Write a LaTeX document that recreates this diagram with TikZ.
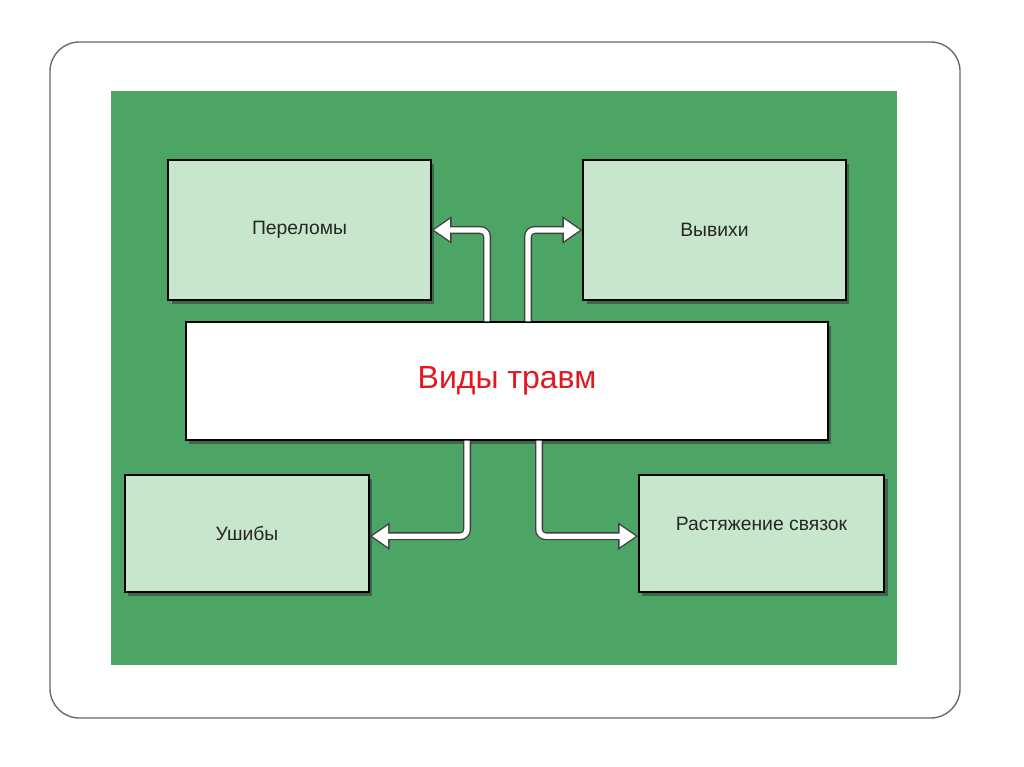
\documentclass[tikz,border=0pt]{standalone}
\usepackage{fontspec}
\setmainfont{Liberation Sans}
\usetikzlibrary{arrows.meta, positioning, shadows}

\definecolor{bggreen}{RGB}{76,165,100}
\definecolor{boxgreen}{RGB}{200,230,204}
\definecolor{titlered}{RGB}{226,24,30}

\begin{document}
\begin{tikzpicture}[
    x=0.75pt, y=-0.75pt,
    kind/.style={rectangle, draw=black, line width=1.1pt, fill=boxgreen, text centered, text=black!85, font=\fontsize{14.5}{17}\selectfont,
        drop shadow={shadow xshift=2.5pt, shadow yshift=-3pt, opacity=0.55, fill=black!80}},
    main/.style={rectangle, draw=black, line width=1.1pt, fill=white, text=titlered, font=\fontsize{24}{28}\selectfont,
        drop shadow={shadow xshift=2.5pt, shadow yshift=-3pt, opacity=0.55, fill=black!80}},
    conn/.style={white, line width=4pt, rounded corners=5pt, shorten >=1.8pt,
        -{Triangle[length=12pt, width=15.5pt]},
        preaction={draw=black!75, line width=6pt, shorten >=0pt, -{Triangle[length=15pt, width=19.5pt]}}}
]
    \useasboundingbox (0,0) rectangle (1024,767);

    % Frame and panel
    \draw[gray!80!black, line width=1pt, rounded corners=22pt] (50,42) rectangle (960,718);
    \fill[bggreen] (111,91) rectangle (897,665);

    % Kinds of injuries
    \node[kind, minimum width=197pt, minimum height=105pt] (perel) at (299.5,230) {Переломы};
    \node[kind, minimum width=197pt, minimum height=105pt] (vyvih) at (714.5,230) {Вывихи};
    \node[kind, minimum width=183pt, minimum height=88pt] (ushib) at (247,533.5) {Ушибы};
    \node[kind, minimum width=184pt, minimum height=88pt] (rast) at (761.5,533.5) {};
    \node[font=\fontsize{14.5}{17}\selectfont, text=black!85] at ([yshift=7.5pt]rast.center) {Растяжение связок};

    % Centre
    \node[main, minimum width=481.5pt, minimum height=88.5pt] (vid) at (507,381) {Виды травм};

    % Connectors
    \draw[conn] ([xshift=-15pt]vid.north) |- (perel.east);
    \draw[conn] ([xshift=15.75pt]vid.north) |- (vyvih.west);
    \draw[conn] ([xshift=-30pt]vid.south) |- ([yshift=-2pt]ushib.east);
    \draw[conn] ([xshift=24pt]vid.south) |- ([yshift=-2pt]rast.west);

\end{tikzpicture}
\end{document}
